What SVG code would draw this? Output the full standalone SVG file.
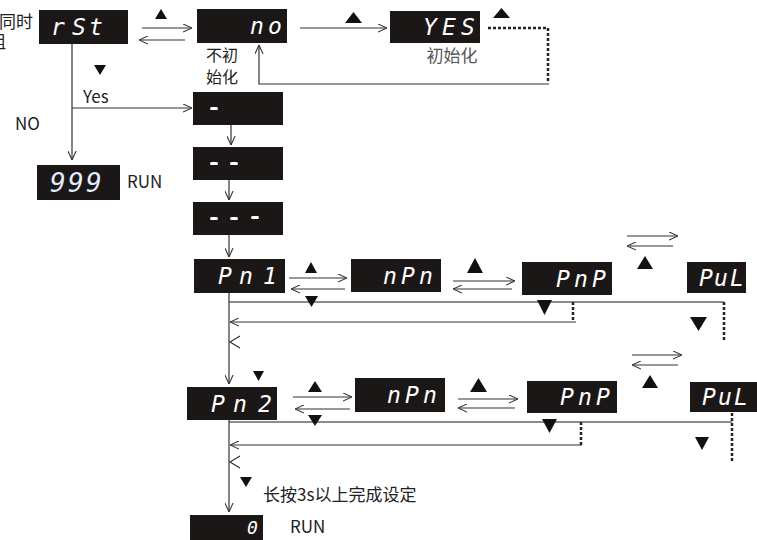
<svg xmlns="http://www.w3.org/2000/svg" width="757" height="540" viewBox="0 0 757 540">
<style>
.box{fill:#1b1717}
.seg{fill:#fff;font-family:"DejaVu Sans Mono",monospace;font-style:italic;font-size:23px}
.lbl{fill:#222;font-family:"Noto Sans CJK SC","Noto Sans",sans-serif;font-size:17px}
.gl{fill:#555;font-family:"Noto Sans CJK SC","Noto Sans",sans-serif;font-size:17px}
.ln{fill:none;stroke:#333;stroke-width:1.2}
.lg{fill:none;stroke:#666;stroke-width:1.5}
.dt{fill:none;stroke:#222;stroke-width:2.5;stroke-dasharray:3 2}
.tri{fill:#111}
.dash{fill:#fff}
</style>
<defs>
<marker id="oa" viewBox="0 0 10 10" refX="10" refY="5" markerWidth="9" markerHeight="9" markerUnits="userSpaceOnUse" orient="auto">
<path d="M0,0.5 L10,5 L0,9.5" fill="none" stroke="#333" stroke-width="1.2"/>
</marker>
</defs>

<text class="lbl" x="33" y="28" text-anchor="end">同时</text>
<text class="lbl" x="6" y="48" text-anchor="end">组</text>

<g id="n-rst"><rect class="box" x="39" y="10" width="89" height="34"/><text class="seg" x="51 72 89" y="35">rSt</text></g>
<g id="n-no"><rect class="box" x="197" y="9" width="90" height="34"/><text class="seg" x="250 268" y="34">no</text></g>
<g id="n-yes"><rect class="box" x="390" y="11" width="90" height="32"/><text class="seg" x="423 442 461" y="35">YES</text></g>
<g id="n-999"><rect class="box" x="37" y="165" width="83" height="35" fill="#1c1c1c"/><text class="seg" x="50 68 86" y="192" style="fill:#e3ecff;font-size:26px">999</text></g>
<g id="n-d1"><rect class="box" x="193" y="92" width="90" height="33"/><rect class="dash" x="210" y="107" width="8" height="3" rx="1.5"/></g>
<g id="n-d2"><rect class="box" x="193" y="147" width="90" height="33"/><rect class="dash" x="210" y="162" width="8" height="3" rx="1.5"/><rect class="dash" x="230" y="162" width="8" height="3" rx="1.5"/></g>
<g id="n-d3"><rect class="box" x="193" y="202" width="90" height="33"/><rect class="dash" x="210" y="217" width="8" height="3" rx="1.5"/><rect class="dash" x="230" y="217" width="8" height="3" rx="1.5"/><rect class="dash" x="251" y="216" width="8" height="3" rx="1.5"/></g>
<g id="n-pn1"><rect class="box" x="194" y="259" width="91" height="34"/><text class="seg" x="218 239 263" y="284">Pn1</text></g>
<g id="n-npn1"><rect class="box" x="351" y="259" width="90" height="33"/><text class="seg" x="383 401 419" y="284">nPn</text></g>
<g id="n-pnp1"><rect class="box" x="522" y="262" width="90" height="33"/><text class="seg" x="556 574 592" y="287">PnP</text></g>
<g id="n-pul1"><rect class="box" x="687" y="262" width="59" height="31"/><text class="seg" x="699 714 730" y="286">PuL</text></g>
<g id="n-pn2"><rect class="box" x="187" y="387" width="90" height="33"/><text class="seg" x="211 233 258" y="412">Pn2</text></g>
<g id="n-npn2"><rect class="box" x="355" y="378" width="90" height="34"/><text class="seg" x="387 405 423" y="403">nPn</text></g>
<g id="n-pnp2"><rect class="box" x="527" y="381" width="90" height="32"/><text class="seg" x="560 578 596" y="405">PnP</text></g>
<g id="n-pul2"><rect class="box" x="690" y="382" width="67" height="30"/><text class="seg" x="702 718 734" y="405">PuL</text></g>
<g id="n-run"><rect class="box" x="190" y="515" width="73" height="25"/><text class="seg" x="247" y="534" style="font-size:18px">0</text></g>

<text class="lbl" x="222" y="61" text-anchor="middle" style="font-size:16px">不初</text>
<text class="lbl" x="222" y="83" text-anchor="middle" style="font-size:16px">始化</text>
<text class="gl" x="452" y="62" text-anchor="middle">初始化</text>
<text class="lbl" x="83" y="103">Yes</text>
<text class="lbl" x="15" y="130">NO</text>
<text class="lbl" x="127" y="188">RUN</text>
<text class="lbl" x="263" y="501">长按3s以上完成设定</text>
<text class="lbl" x="290" y="533">RUN</text>

<g id="connectors">
<line class="ln" x1="142" y1="28" x2="192" y2="28" marker-end="url(#oa)"/>
<line class="ln" x1="185" y1="40" x2="139" y2="40" marker-end="url(#oa)"/>
<line class="ln" x1="300" y1="28" x2="387" y2="28" marker-end="url(#oa)"/>
<polyline class="dt" points="488,28 548,28 548,82"/>
<polyline class="ln" points="549,84 259,84 259,45" marker-end="url(#oa)"/>
<line class="ln" x1="72" y1="44" x2="72" y2="160" marker-end="url(#oa)"/>
<line class="ln" x1="72" y1="108" x2="192" y2="108" marker-end="url(#oa)"/>
<line class="ln" x1="231" y1="125" x2="231" y2="145" marker-end="url(#oa)"/>
<line class="ln" x1="229" y1="180" x2="229" y2="200" marker-end="url(#oa)"/>
<line class="ln" x1="229" y1="235" x2="229" y2="257" marker-end="url(#oa)"/>

<line class="ln" x1="289" y1="278" x2="347" y2="278" marker-end="url(#oa)"/>
<line class="ln" x1="345" y1="289" x2="291" y2="289" marker-end="url(#oa)"/>
<line class="ln" x1="453" y1="281" x2="515" y2="281" marker-end="url(#oa)"/>
<line class="ln" x1="512" y1="289" x2="453" y2="289" marker-end="url(#oa)"/>
<line class="ln" x1="627" y1="236" x2="678" y2="236" marker-end="url(#oa)"/>
<line class="ln" x1="673" y1="246" x2="627" y2="246" marker-end="url(#oa)"/>
<line class="lg" x1="229" y1="302" x2="724" y2="302"/>
<line class="dt" x1="573" y1="302" x2="573" y2="321"/>
<line class="dt" x1="724" y1="302" x2="724" y2="340"/>
<line class="ln" x1="576" y1="322" x2="230" y2="322" marker-end="url(#oa)"/>
<line class="ln" x1="229" y1="293" x2="229" y2="384" marker-end="url(#oa)"/>
<path class="ln" d="M240,336 L230,342 L240,348"/>

<line class="ln" x1="293" y1="397" x2="352" y2="397" marker-end="url(#oa)"/>
<line class="ln" x1="350" y1="409" x2="295" y2="409" marker-end="url(#oa)"/>
<line class="ln" x1="458" y1="399" x2="518" y2="399" marker-end="url(#oa)"/>
<line class="ln" x1="515" y1="408" x2="458" y2="408" marker-end="url(#oa)"/>
<line class="ln" x1="632" y1="355" x2="682" y2="355" marker-end="url(#oa)"/>
<line class="ln" x1="678" y1="365" x2="632" y2="365" marker-end="url(#oa)"/>
<line class="lg" x1="229" y1="422" x2="732" y2="422"/>
<line class="dt" x1="581" y1="422" x2="581" y2="445"/>
<line class="dt" x1="732" y1="413" x2="732" y2="463"/>
<line class="ln" x1="582" y1="445" x2="230" y2="445" marker-end="url(#oa)"/>
<line class="ln" x1="229" y1="420" x2="229" y2="512" marker-end="url(#oa)"/>
<path class="ln" d="M240,456 L230,462 L240,468"/>

<polygon class="tri" points="155,19 167,19 161,9"/>
<polygon class="tri" points="345,23 362,23 353.5,12"/>
<polygon class="tri" points="493,18 510,18 501.5,8"/>
<polygon class="tri" points="94,65 106,65 100,75"/>
<polygon class="tri" points="305,273 317,273 311,262"/>
<polygon class="tri" points="305,296 318,296 311.5,307"/>
<polygon class="tri" points="467,273 483,273 475,258"/>
<polygon class="tri" points="537,300 552,300 544.5,315"/>
<polygon class="tri" points="637,269 653,269 645,256"/>
<polygon class="tri" points="690,317 707,317 698.5,331"/>
<polygon class="tri" points="253,371 264,371 258.5,381"/>
<polygon class="tri" points="308,392 322,392 315,381"/>
<polygon class="tri" points="308,415 322,415 315,426"/>
<polygon class="tri" points="470,392 487,392 478.5,378"/>
<polygon class="tri" points="542,419 557,419 549.5,433"/>
<polygon class="tri" points="642,388 658,388 650,375"/>
<polygon class="tri" points="695,437 709,437 702,450"/>
<polygon class="tri" points="240,477 252,477 246,487"/>
</g>
</svg>
